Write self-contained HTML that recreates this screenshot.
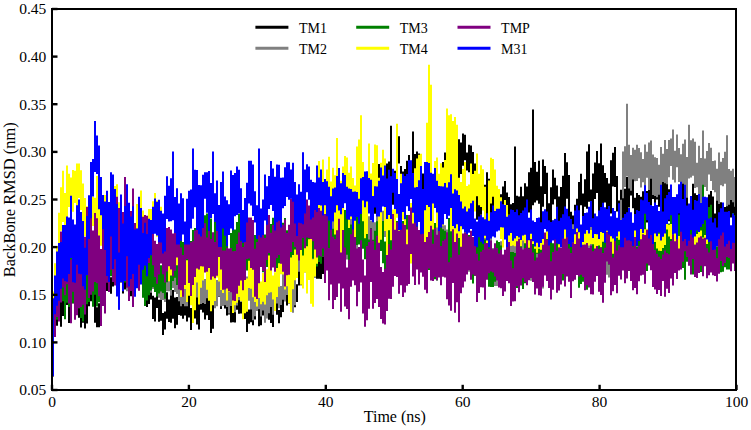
<!DOCTYPE html>
<html><head><meta charset="utf-8"><style>
html,body{margin:0;padding:0;background:#fff;}
svg{display:block;}
text{font-family:"Liberation Serif",serif;font-size:15.5px;fill:#000;}
text.lg{font-size:14px;}
text.al{font-size:16px;}
text.yl{font-size:16.4px;}
</style></head><body>
<svg width="751" height="430" viewBox="0 0 751 430">
<rect width="751" height="430" fill="#fff"/>
<defs><clipPath id="pc"><rect x="52" y="9" width="684" height="381"/></clipPath></defs>
<g fill="none" stroke-width="2.0" clip-path="url(#pc)">
<path d="M53.0 376.2V325.4M55.0 331.9V308.6M57.0 325.7V301.7M59.0 317.1V295.5M61.0 326.7V301.1M63.0 315.9V280.4M65.0 303.9V288.0M67.0 304.9V276.1M69.0 322.9V290.2M71.0 313.6V273.8M73.0 303.5V277.3M75.0 312.7V285.9M77.0 305.2V287.9M79.0 317.8V292.4M81.0 327.4V292.3M83.0 322.8V298.1M85.0 328.6V303.5M87.0 323.6V297.5M89.0 306.2V273.3M91.0 301.3V280.1M93.0 303.8V281.1M95.0 322.7V289.6M97.0 327.2V307.3M99.0 327.2V303.2M101.0 324.8V288.8M103.0 299.3V280.6M105.0 300.0V279.2M107.0 290.9V270.4M109.0 288.9V273.4M111.0 293.7V277.2M113.0 286.6V269.4M115.0 284.2V270.3M117.0 289.1V270.6M119.0 283.7V268.9M121.0 282.4V265.1M123.0 293.6V266.4M125.0 289.6V274.5M127.0 284.7V269.9M129.0 288.7V270.3M131.0 296.3V274.8M133.0 287.2V269.5M135.0 284.5V253.4M137.0 279.1V252.5M139.0 277.2V261.8M141.0 280.6V253.1M143.0 290.7V269.1M145.0 305.5V275.8M147.0 307.1V287.2M149.0 304.0V283.8M151.0 299.5V278.1M153.0 319.0V295.8M155.0 321.4V297.6M157.0 308.1V284.9M159.0 321.7V299.8M161.0 320.8V298.3M163.0 335.1V312.9M165.0 329.5V311.6M167.0 318.8V292.2M169.0 322.1V299.5M171.0 322.7V295.3M173.0 318.7V290.0M175.0 328.3V297.6M177.0 324.8V297.0M179.0 315.1V292.8M181.0 315.7V297.7M183.0 318.7V295.7M185.0 315.6V298.3M187.0 321.5V293.6M189.0 317.4V293.9M191.0 330.1V307.9M193.0 321.0V293.3M195.0 318.4V299.2M197.0 324.6V293.9M199.0 329.4V293.4M201.0 309.8V281.0M203.0 312.4V290.8M205.0 319.5V293.5M207.0 315.2V283.8M209.0 320.1V294.0M211.0 332.9V309.9M213.0 328.7V288.9M215.0 306.0V281.9M217.0 295.1V281.8M219.0 296.7V282.0M221.0 309.1V283.3M223.0 302.3V282.6M225.0 308.4V288.6M227.0 315.4V290.7M229.0 314.6V299.3M231.0 322.5V301.1M233.0 322.2V309.4M235.0 322.4V297.2M237.0 309.8V293.7M239.0 313.8V294.6M241.0 313.6V296.6M243.0 309.7V288.8M245.0 318.9V299.7M247.0 331.9V307.7M249.0 323.8V309.5M251.0 322.2V297.7M253.0 325.2V294.2M255.0 319.6V297.5M257.0 308.8V294.3M259.0 326.2V295.4M261.0 325.3V303.9M263.0 315.4V304.1M265.0 311.9V295.4M267.0 307.7V284.1M269.0 319.7V295.9M271.0 323.0V301.3M273.0 327.0V287.7M275.0 307.5V293.1M277.0 314.7V284.2M279.0 323.2V310.0M281.0 317.3V290.2M283.0 312.0V278.0M285.0 298.7V273.4M287.0 305.4V285.2M289.0 303.6V284.0M291.0 300.8V277.5M293.0 297.0V281.7M295.0 307.2V287.9M297.0 302.0V284.3M299.0 285.6V259.8M301.0 285.2V267.9M303.0 280.7V260.7M305.0 271.4V253.4M307.0 265.6V246.2M309.0 278.0V252.5M311.0 274.9V259.2M313.0 269.0V258.2M315.0 277.2V249.4M317.0 278.7V249.9M319.0 278.7V257.7M321.0 279.0V259.8M323.0 273.9V252.6M325.0 251.2V219.7M327.0 247.4V219.5M329.0 256.7V236.9M331.0 272.0V247.7M333.0 260.8V238.8M335.0 259.7V224.5M337.0 240.5V220.4M339.0 246.5V212.9M341.0 265.9V240.7M343.0 265.7V242.5M345.0 258.9V234.5M347.0 236.3V205.9M349.0 242.3V217.3M351.0 246.6V223.0M353.0 233.6V209.6M355.0 238.8V213.7M357.0 233.8V204.9M359.0 218.8V198.6M361.0 230.7V204.5M363.0 244.7V200.5M365.0 224.5V184.9M367.0 209.7V185.4M369.0 204.2V176.9M371.0 207.8V179.0M373.0 218.8V179.8M375.0 213.7V177.0M377.0 204.4V168.4M379.0 191.3V164.1M381.0 192.9V163.8M383.0 200.0V166.2M385.0 211.3V179.6M387.0 215.7V163.5M389.0 201.1V161.6M391.0 204.2V125.7M393.0 204.8V172.3M395.0 205.3V170.8M397.0 181.2V154.1M399.0 163.6V136.2M401.0 190.0V166.1M403.0 200.3V171.5M405.0 192.0V169.1M407.0 189.0V160.8M409.0 189.9V155.1M411.0 193.4V166.6M413.0 173.8V131.4M415.0 178.4V154.1M417.0 184.2V151.6M419.0 180.8V153.4M421.0 195.9V164.6M423.0 196.6V173.5M425.0 198.2V182.6M427.0 193.2V163.4M429.0 198.7V157.2M431.0 205.4V181.4M433.0 197.0V177.7M435.0 206.2V168.3M437.0 200.6V177.9M439.0 210.0V186.4M441.0 209.9V177.1M443.0 190.6V162.0M445.0 181.2V152.4M447.0 177.9V154.0M449.0 201.5V158.3M451.0 181.6V155.8M453.0 178.6V144.7M455.0 196.7V150.2M457.0 191.5V169.6M459.0 182.8V139.2M461.0 174.0V142.6M463.0 165.7V133.4M465.0 160.2V134.8M467.0 170.5V152.6M469.0 172.3V144.7M471.0 174.2V145.5M473.0 179.0V152.0M475.0 201.0V163.4M477.0 219.8V192.3M479.0 217.5V194.1M481.0 214.7V189.6M483.0 209.8V184.5M485.0 204.1V184.7M487.0 214.6V172.3M489.0 200.9V178.7M491.0 216.3V194.5M493.0 218.5V195.4M495.0 217.7V187.6M497.0 215.9V192.8M499.0 214.9V192.6M501.0 224.0V194.3M503.0 207.5V186.5M505.0 221.4V181.0M507.0 213.2V192.6M509.0 228.7V196.9M511.0 225.5V204.3M513.0 224.7V203.0M515.0 237.0V146.6M517.0 218.5V195.8M519.0 223.8V196.4M521.0 215.0V186.7M523.0 233.2V196.2M525.0 228.1V183.3M527.0 202.5V186.5M529.0 212.6V172.3M531.0 209.9V167.8M533.0 205.2V109.5M535.0 202.6V162.1M537.0 200.6V171.8M539.0 203.7V160.7M541.0 227.5V186.2M543.0 206.7V159.6M545.0 193.9V166.0M547.0 219.2V172.7M549.0 237.7V203.3M551.0 234.7V187.2M553.0 204.5V169.5M555.0 199.2V177.7M557.0 233.6V185.6M559.0 237.5V196.5M561.0 222.2V186.9M563.0 221.7V175.8M565.0 212.9V153.1M567.0 198.7V162.2M569.0 218.9V175.0M571.0 241.7V211.7M573.0 241.7V215.4M575.0 233.6V204.7M577.0 237.3V198.7M579.0 222.3V182.0M581.0 205.3V173.8M583.0 232.6V193.4M585.0 206.7V179.2M587.0 208.7V151.5M589.0 201.7V144.3M591.0 231.6V189.6M593.0 226.3V173.4M595.0 199.1V162.4M597.0 193.1V150.9M599.0 224.9V163.3M601.0 217.3V143.4M603.0 208.3V165.2M605.0 202.4V173.1M607.0 221.4V178.1M609.0 211.7V183.4M611.0 213.5V160.3M613.0 186.5V152.8M615.0 187.1V147.0M617.0 211.5V176.1M619.0 223.6V200.4M621.0 226.7V189.7M623.0 220.2V182.9M625.0 225.1V188.8M627.0 214.5V177.0M629.0 207.5V176.5M631.0 195.6V172.6M633.0 208.3V179.2M635.0 218.9V197.8M637.0 235.0V193.1M639.0 231.7V194.9M641.0 226.8V196.7M643.0 225.9V191.2M645.0 222.6V198.7M647.0 222.4V191.1M649.0 211.9V175.9M651.0 208.1V168.4M653.0 199.1V173.8M655.0 205.8V173.7M657.0 199.5V163.6M659.0 206.7V186.8M661.0 213.8V188.3M663.0 212.5V173.2M665.0 210.4V166.2M667.0 216.2V180.5M669.0 221.2V189.2M671.0 235.4V205.4M673.0 239.7V215.5M675.0 235.6V202.6M677.0 236.2V196.9M679.0 238.6V193.2M681.0 213.6V183.4M683.0 209.9V179.7M685.0 217.8V187.8M687.0 241.3V189.6M689.0 241.5V216.6M691.0 241.6V200.8M693.0 221.9V183.7M695.0 211.8V193.2M697.0 226.4V194.9M699.0 212.8V185.3M701.0 222.2V187.0M703.0 226.4V194.2M705.0 232.2V199.8M707.0 231.1V210.9M709.0 226.2V194.4M711.0 222.4V191.1M713.0 224.4V196.4M715.0 232.6V213.6M717.0 241.1V198.7M719.0 232.7V201.3M721.0 237.4V202.2M723.0 233.3V203.8M725.0 232.0V207.0M727.0 234.6V201.2M729.0 217.5V195.6M731.0 217.6V188.6M733.0 234.4V201.7M735.0 221.1V195.6M737.0 217.1V199.0" stroke="#000000"/>
<path d="M53.0 376.2V317.9M55.0 326.9V293.3M57.0 298.2V266.0M59.0 285.9V254.3M61.0 273.0V245.1M63.0 286.1V255.3M65.0 287.2V258.7M67.0 279.1V258.6M69.0 270.1V247.1M71.0 275.3V250.1M73.0 275.5V250.8M75.0 291.7V258.6M77.0 292.7V258.8M79.0 292.2V253.0M81.0 285.8V255.7M83.0 292.7V254.5M85.0 285.6V253.6M87.0 286.6V262.0M89.0 287.2V260.4M91.0 281.1V259.6M93.0 285.8V246.3M95.0 292.7V265.9M97.0 289.7V260.3M99.0 292.7V267.3M101.0 283.9V255.9M103.0 277.9V252.8M105.0 270.8V241.0M107.0 270.9V239.6M109.0 267.9V240.3M111.0 271.9V240.4M113.0 274.5V245.0M115.0 268.7V240.2M117.0 276.5V247.3M119.0 283.9V254.0M121.0 280.6V247.9M123.0 274.3V246.6M125.0 278.9V254.2M127.0 291.2V255.1M129.0 289.7V255.7M131.0 285.9V260.7M133.0 285.8V255.4M135.0 281.9V247.8M137.0 280.1V246.4M139.0 285.2V255.4M141.0 274.6V248.5M143.0 292.7V271.3M145.0 288.4V263.6M147.0 291.2V263.0M149.0 283.6V260.8M151.0 292.7V264.9M153.0 289.1V262.6M155.0 290.5V255.3M157.0 294.2V269.3M159.0 297.7V265.1M161.0 299.9V268.8M163.0 299.9V270.2M165.0 302.1V260.0M167.0 291.3V264.5M169.0 291.3V269.6M171.0 295.3V266.5M173.0 288.0V269.1M175.0 292.0V263.2M177.0 294.1V275.1M179.0 301.3V280.4M181.0 306.2V272.0M183.0 304.0V272.4M185.0 306.2V278.4M187.0 306.2V278.5M189.0 292.8V273.2M191.0 296.4V270.1M193.0 299.4V274.4M195.0 301.4V266.2M197.0 297.4V273.2M199.0 299.6V276.5M201.0 304.0V278.4M203.0 302.9V280.3M205.0 303.9V278.9M207.0 298.3V273.3M209.0 292.4V265.7M211.0 304.2V265.1M213.0 298.2V273.8M215.0 308.3V283.2M217.0 306.3V280.0M219.0 296.6V271.5M221.0 306.2V281.6M223.0 305.9V279.4M225.0 305.3V283.4M227.0 307.0V287.6M229.0 313.4V285.0M231.0 305.9V279.4M233.0 309.9V284.3M235.0 312.2V280.5M237.0 305.5V275.7M239.0 300.2V279.4M241.0 301.9V272.1M243.0 295.1V272.1M245.0 299.9V277.9M247.0 302.5V276.6M249.0 300.7V273.9M251.0 309.4V284.0M253.0 320.3V274.8M255.0 316.3V289.4M257.0 311.1V279.3M259.0 309.3V285.5M261.0 316.4V284.8M263.0 310.4V286.2M265.0 322.8V289.1M267.0 318.4V287.9M269.0 313.3V278.9M271.0 307.1V279.2M273.0 314.8V285.5M275.0 307.3V285.5M277.0 303.5V286.8M279.0 308.2V274.3M281.0 305.0V286.1M283.0 299.7V271.8M285.0 301.6V270.3M287.0 294.9V271.0M289.0 299.6V269.4M291.0 305.5V268.3M293.0 312.8V282.6M295.0 305.3V268.7M297.0 273.0V251.3M299.0 271.8V237.7M301.0 253.4V232.4M303.0 263.6V237.6M305.0 272.6V250.1M307.0 267.2V235.5M309.0 265.3V241.1M311.0 272.8V251.0M313.0 272.8V246.2M315.0 277.9V249.9M317.0 260.9V235.2M319.0 258.5V228.8M321.0 257.1V222.6M323.0 256.4V222.3M325.0 258.1V225.7M327.0 249.3V219.2M329.0 261.8V231.8M331.0 259.7V230.5M333.0 260.4V221.8M335.0 251.3V218.0M337.0 268.1V225.0M339.0 252.2V216.7M341.0 244.0V216.4M343.0 258.3V221.8M345.0 274.3V216.6M347.0 259.6V229.7M349.0 243.9V214.9M351.0 257.5V210.3M353.0 272.6V229.1M355.0 271.1V229.2M357.0 258.7V217.7M359.0 231.6V209.9M361.0 240.7V209.9M363.0 246.8V221.5M365.0 246.4V215.8M367.0 245.4V210.2M369.0 253.1V216.2M371.0 252.1V220.8M373.0 253.8V221.4M375.0 246.3V222.2M377.0 254.8V210.5M379.0 240.1V214.4M381.0 238.1V210.6M383.0 236.3V210.7M385.0 236.9V210.7M387.0 239.0V210.8M389.0 245.9V214.4M391.0 254.5V222.4M393.0 250.8V224.2M395.0 255.4V222.5M397.0 248.8V226.8M399.0 249.2V220.1M401.0 251.9V225.1M403.0 257.9V229.8M405.0 258.3V234.5M407.0 254.8V222.5M409.0 244.9V222.4M411.0 249.4V223.5M413.0 255.0V225.8M415.0 262.0V217.1M417.0 263.4V226.3M419.0 271.3V237.3M421.0 258.3V237.8M423.0 261.9V238.8M425.0 260.2V231.1M427.0 268.6V231.6M429.0 264.3V232.1M431.0 256.7V229.4M433.0 252.0V221.8M435.0 253.2V227.1M437.0 260.6V226.9M439.0 262.1V235.9M441.0 268.0V229.1M443.0 260.9V225.0M445.0 246.9V225.2M447.0 260.8V229.4M449.0 262.8V235.2M451.0 270.1V240.7M453.0 269.2V239.0M455.0 264.0V239.0M457.0 254.7V228.7M459.0 257.4V231.0M461.0 257.6V231.7M463.0 256.3V241.7M465.0 271.4V230.0M467.0 268.2V235.7M469.0 271.7V250.5M471.0 271.8V237.0M473.0 263.9V242.0M475.0 265.9V233.6M477.0 271.4V237.6M479.0 278.5V239.3M481.0 264.8V236.2M483.0 259.9V229.8M485.0 269.1V234.9M487.0 266.3V231.0M489.0 266.5V229.7M491.0 274.6V231.8M493.0 276.0V247.9M495.0 285.9V257.7M497.0 286.1V261.5M499.0 277.8V245.3M501.0 273.8V241.3M503.0 280.6V258.4M505.0 286.7V253.8M507.0 278.5V248.6M509.0 275.5V238.7M511.0 275.3V238.3M513.0 268.7V244.3M515.0 274.4V242.8M517.0 282.1V257.1M519.0 266.8V245.1M521.0 271.7V234.6M523.0 272.7V236.6M525.0 267.0V239.9M527.0 256.9V236.0M529.0 277.9V237.0M531.0 280.8V247.5M533.0 271.2V235.2M535.0 275.1V250.7M537.0 277.4V240.8M539.0 278.7V235.9M541.0 288.4V252.4M543.0 288.4V248.0M545.0 267.7V238.1M547.0 266.9V239.7M549.0 268.0V240.6M551.0 281.9V236.6M553.0 277.1V252.7M555.0 276.0V234.7M557.0 287.7V244.5M559.0 287.7V262.8M561.0 283.8V260.3M563.0 277.0V237.5M565.0 266.3V225.2M567.0 251.8V230.9M569.0 259.9V226.4M571.0 263.6V224.5M573.0 249.4V224.2M575.0 252.5V227.9M577.0 244.8V223.7M579.0 266.1V223.7M581.0 278.4V239.5M583.0 270.0V231.8M585.0 279.4V252.7M587.0 273.4V238.9M589.0 269.2V224.0M591.0 259.3V226.0M593.0 269.7V229.5M595.0 267.3V227.8M597.0 260.5V230.4M599.0 265.6V228.4M601.0 257.9V228.5M603.0 262.3V236.0M605.0 266.1V223.8M607.0 274.7V248.0M609.0 277.6V236.4M611.0 260.5V231.5M613.0 260.0V224.7M615.0 270.8V230.0M617.0 278.3V243.8M619.0 269.8V220.5M621.0 254.9V199.7M623.0 198.2V151.5M625.0 187.1V146.2M627.0 176.5V103.8M629.0 188.5V144.7M631.0 190.8V154.9M633.0 179.0V147.8M635.0 181.3V149.8M637.0 181.0V144.7M639.0 178.3V147.9M641.0 187.4V152.2M643.0 182.3V159.1M645.0 192.1V144.6M647.0 177.8V151.8M649.0 189.9V142.4M651.0 178.7V140.6M653.0 195.0V154.4M655.0 196.0V157.2M657.0 197.3V157.9M659.0 194.7V164.8M661.0 190.9V147.0M663.0 181.9V153.7M665.0 183.3V139.9M667.0 184.2V149.0M669.0 177.2V140.1M671.0 166.0V138.4M673.0 179.7V129.5M675.0 182.5V150.7M677.0 167.3V134.4M679.0 181.9V148.0M681.0 189.7V154.3M683.0 183.7V143.8M685.0 188.2V139.6M687.0 197.7V157.1M689.0 178.6V124.7M691.0 177.6V140.2M693.0 175.8V138.5M695.0 188.0V141.7M697.0 187.3V162.7M699.0 196.6V145.7M701.0 203.8V157.9M703.0 198.8V130.4M705.0 186.9V158.4M707.0 191.0V150.9M709.0 174.5V143.1M711.0 181.0V147.7M713.0 190.0V160.9M715.0 192.2V160.4M717.0 200.7V168.8M719.0 204.1V152.6M721.0 185.2V161.7M723.0 186.3V158.1M725.0 183.8V151.8M727.0 206.2V135.2M729.0 204.8V168.9M731.0 200.0V170.7M733.0 202.3V168.7M735.0 206.8V177.1M737.0 207.0V189.4" stroke="#808080"/>
<path d="M53.0 376.2V323.8M55.0 330.6V298.5M57.0 319.7V280.5M59.0 296.3V263.5M61.0 292.1V245.1M63.0 301.2V250.0M65.0 319.2V270.4M67.0 302.7V267.5M69.0 307.1V272.1M71.0 294.7V252.4M73.0 303.1V252.5M75.0 293.8V250.7M77.0 300.8V262.4M79.0 308.6V268.7M81.0 318.0V270.2M83.0 321.6V248.7M85.0 302.6V254.0M87.0 304.3V263.1M89.0 301.9V255.8M91.0 293.4V254.3M93.0 306.7V265.6M95.0 294.8V261.5M97.0 306.4V273.6M99.0 302.2V267.3M101.0 292.9V256.6M103.0 285.3V252.4M105.0 283.3V255.4M107.0 280.5V250.3M109.0 280.1V256.1M111.0 276.2V252.9M113.0 279.8V251.4M115.0 279.4V253.4M117.0 275.8V248.7M119.0 271.6V246.3M121.0 268.2V245.4M123.0 277.7V250.0M125.0 282.6V254.4M127.0 270.1V242.3M129.0 264.8V240.4M131.0 273.4V252.4M133.0 280.2V252.2M135.0 283.8V240.0M137.0 270.4V239.6M139.0 280.9V246.2M141.0 278.9V255.2M143.0 297.7V252.9M145.0 305.9V247.6M147.0 300.6V253.9M149.0 295.2V248.1M151.0 290.6V251.9M153.0 287.3V246.8M155.0 291.9V247.0M157.0 296.4V266.0M159.0 293.5V262.0M161.0 291.4V265.3M163.0 292.9V244.9M165.0 298.8V243.1M167.0 282.2V244.2M169.0 279.1V250.7M171.0 290.0V252.4M173.0 280.9V248.3M175.0 277.7V249.9M177.0 285.1V239.4M179.0 274.9V229.6M181.0 270.8V235.7M183.0 271.2V242.0M185.0 280.3V245.8M187.0 274.4V240.6M189.0 279.0V239.4M191.0 279.4V241.1M193.0 266.0V229.9M195.0 267.2V228.0M197.0 269.0V241.7M199.0 263.6V227.2M201.0 256.2V223.1M203.0 273.7V232.8M205.0 257.9V215.3M207.0 238.4V213.5M209.0 242.0V213.2M211.0 254.6V218.5M213.0 265.5V235.8M215.0 259.6V220.7M217.0 256.0V225.6M219.0 274.0V237.3M221.0 271.4V233.6M223.0 269.9V221.7M225.0 264.0V233.8M227.0 272.4V234.1M229.0 277.3V253.7M231.0 277.5V233.0M233.0 262.0V224.0M235.0 263.3V229.4M237.0 267.7V222.0M239.0 248.7V213.7M241.0 261.4V221.7M243.0 260.8V224.9M245.0 265.9V228.2M247.0 270.6V236.9M249.0 267.7V234.2M251.0 274.0V233.2M253.0 265.4V228.7M255.0 282.1V235.1M257.0 265.1V237.3M259.0 270.9V232.1M261.0 264.6V237.5M263.0 272.3V234.9M265.0 265.5V234.6M267.0 266.9V230.3M269.0 263.8V222.9M271.0 268.8V224.0M273.0 260.6V217.7M275.0 256.5V218.2M277.0 268.4V232.5M279.0 268.5V239.0M281.0 267.2V228.8M283.0 259.4V222.8M285.0 261.5V218.1M287.0 279.9V230.2M289.0 278.0V243.0M291.0 268.5V236.4M293.0 268.5V234.1M295.0 279.7V244.4M297.0 258.9V223.3M299.0 258.5V230.3M301.0 255.5V218.1M303.0 270.6V222.2M305.0 264.4V230.8M307.0 248.5V217.3M309.0 255.8V215.1M311.0 262.4V220.7M313.0 258.6V225.3M315.0 270.9V228.6M317.0 266.5V230.9M319.0 262.1V232.0M321.0 263.8V212.4M323.0 256.0V219.1M325.0 256.9V227.6M327.0 264.4V228.4M329.0 263.3V215.7M331.0 252.2V222.0M333.0 254.7V228.7M335.0 255.6V226.3M337.0 272.0V231.1M339.0 262.7V233.9M341.0 270.4V230.8M343.0 275.2V238.7M345.0 260.0V209.9M347.0 254.8V215.2M349.0 270.1V226.6M351.0 263.8V224.4M353.0 276.1V246.4M355.0 268.9V212.7M357.0 245.0V216.0M359.0 244.5V217.9M361.0 252.3V213.8M363.0 248.7V211.6M365.0 259.2V220.8M367.0 268.6V222.4M369.0 264.5V239.4M371.0 263.5V227.9M373.0 276.0V239.7M375.0 262.4V230.7M377.0 257.3V221.3M379.0 257.5V219.9M381.0 251.1V222.8M383.0 263.2V221.0M385.0 275.7V241.6M387.0 269.5V228.5M389.0 265.6V223.9M391.0 266.6V228.2M393.0 270.3V234.0M395.0 258.6V213.6M397.0 256.6V220.9M399.0 264.7V222.0M401.0 272.3V227.4M403.0 262.9V221.0M405.0 252.3V213.0M407.0 258.3V215.1M409.0 250.5V220.4M411.0 250.4V210.9M413.0 265.3V213.1M415.0 268.1V230.0M417.0 257.0V216.7M419.0 268.3V230.6M421.0 262.0V227.5M423.0 271.8V239.6M425.0 260.5V226.8M427.0 272.4V228.6M429.0 270.0V227.0M431.0 265.9V215.6M433.0 258.7V220.6M435.0 279.2V223.1M437.0 280.4V237.1M439.0 265.0V228.1M441.0 268.4V225.0M443.0 269.3V229.2M445.0 274.4V230.8M447.0 283.7V244.3M449.0 271.1V217.9M451.0 279.6V229.6M453.0 273.2V217.0M455.0 253.8V218.2M457.0 265.1V229.2M459.0 269.2V230.0M461.0 267.3V236.1M463.0 268.4V237.5M465.0 270.1V238.6M467.0 265.1V232.6M469.0 265.7V234.9M471.0 272.6V233.3M473.0 283.4V247.1M475.0 275.8V234.8M477.0 255.5V226.1M479.0 268.8V221.2M481.0 279.0V240.4M483.0 269.0V238.8M485.0 273.7V239.5M487.0 276.7V248.4M489.0 286.8V242.2M491.0 286.9V259.5M493.0 287.1V249.7M495.0 281.8V245.2M497.0 273.5V240.5M499.0 272.7V242.0M501.0 279.1V245.5M503.0 287.2V260.6M505.0 281.0V253.1M507.0 281.1V245.8M509.0 273.5V233.3M511.0 288.3V252.1M513.0 281.1V251.9M515.0 288.6V252.9M517.0 288.0V252.3M519.0 278.8V250.0M521.0 270.9V238.0M523.0 289.1V251.6M525.0 283.3V237.3M527.0 275.9V241.6M529.0 264.7V223.4M531.0 261.3V227.5M533.0 265.6V225.0M535.0 275.3V241.8M537.0 253.8V228.7M539.0 263.4V233.3M541.0 266.8V232.7M543.0 269.4V242.1M545.0 272.0V234.2M547.0 277.7V235.5M549.0 257.8V235.5M551.0 271.2V229.5M553.0 276.1V243.3M555.0 269.8V240.7M557.0 280.1V242.6M559.0 263.7V230.8M561.0 283.4V248.0M563.0 280.4V242.4M565.0 277.6V244.4M567.0 275.0V237.9M569.0 272.5V242.7M571.0 267.9V231.6M573.0 278.3V238.2M575.0 261.6V223.6M577.0 254.9V223.6M579.0 287.8V242.1M581.0 284.1V249.4M583.0 281.7V253.1M585.0 288.0V256.7M587.0 289.7V254.4M589.0 279.5V249.5M591.0 275.6V249.6M593.0 271.0V234.2M595.0 271.5V223.6M597.0 261.6V230.6M599.0 261.1V236.2M601.0 254.2V223.6M603.0 260.8V223.6M605.0 250.0V223.6M607.0 257.2V223.6M609.0 264.4V228.1M611.0 265.2V238.8M613.0 284.4V251.7M615.0 277.7V239.1M617.0 271.3V234.9M619.0 262.6V223.6M621.0 263.9V223.6M623.0 259.8V223.6M625.0 270.2V239.5M627.0 277.1V240.9M629.0 271.1V230.8M631.0 274.5V231.9M633.0 268.0V231.8M635.0 278.5V237.5M637.0 262.8V232.6M639.0 267.7V227.1M641.0 245.0V214.0M643.0 249.9V213.1M645.0 261.8V210.0M647.0 270.9V235.5M649.0 261.0V217.0M651.0 261.3V217.5M653.0 271.9V210.7M655.0 286.1V216.5M657.0 261.8V212.3M659.0 262.9V219.9M661.0 276.0V221.9M663.0 279.4V223.3M665.0 271.8V227.4M667.0 256.6V223.6M669.0 258.3V223.4M671.0 256.1V213.2M673.0 267.2V225.3M675.0 256.5V214.3M677.0 267.2V207.3M679.0 261.6V214.5M681.0 264.7V216.2M683.0 268.1V219.2M685.0 279.8V233.8M687.0 261.7V213.7M689.0 255.9V204.1M691.0 269.6V216.2M693.0 274.4V219.1M695.0 273.9V242.4M697.0 259.6V209.0M699.0 265.5V216.5M701.0 272.1V203.5M703.0 244.7V184.7M705.0 251.0V210.9M707.0 261.2V225.3M709.0 256.6V207.0M711.0 270.6V204.7M713.0 265.1V233.3M715.0 257.1V225.0M717.0 272.3V231.9M719.0 268.1V235.2M721.0 272.2V242.6M723.0 271.8V248.4M725.0 267.2V246.8M727.0 269.6V239.2M729.0 269.6V241.0M731.0 268.9V234.7M733.0 249.0V213.1M735.0 245.3V215.0M737.0 233.1V217.8" stroke="#008000"/>
<path d="M53.0 376.2V291.4M55.0 294.1V263.2M57.0 275.7V246.1M59.0 257.0V212.7M61.0 230.8V187.3M63.0 221.9V170.7M65.0 243.4V193.1M67.0 228.8V165.6M69.0 207.0V173.8M71.0 213.2V177.6M73.0 211.7V169.9M75.0 202.9V170.8M77.0 210.3V163.6M79.0 198.0V163.4M81.0 210.0V170.3M83.0 231.8V183.4M85.0 236.3V198.0M87.0 250.4V206.2M89.0 260.7V218.6M91.0 254.9V197.7M93.0 226.0V196.7M95.0 240.6V197.8M97.0 235.7V175.9M99.0 236.0V176.8M101.0 245.8V208.6M103.0 238.1V203.7M105.0 227.4V194.9M107.0 249.0V207.2M109.0 247.4V213.8M111.0 243.3V213.9M113.0 248.8V213.3M115.0 235.7V185.9M117.0 229.5V184.3M119.0 247.2V202.3M121.0 245.8V212.0M123.0 249.1V215.2M125.0 243.4V211.4M127.0 247.6V212.6M129.0 243.1V210.8M131.0 238.4V211.8M133.0 259.9V230.3M135.0 259.9V234.5M137.0 248.0V204.1M139.0 240.3V203.7M141.0 220.1V190.4M143.0 243.2V210.6M145.0 250.4V230.2M147.0 251.4V217.9M149.0 231.3V209.0M151.0 247.7V209.0M153.0 239.1V201.2M155.0 228.2V192.9M157.0 236.8V200.6M159.0 241.4V206.9M161.0 245.0V206.8M163.0 255.5V214.4M165.0 261.7V233.3M167.0 264.1V241.2M169.0 281.3V251.0M171.0 275.5V236.8M173.0 274.3V244.9M175.0 265.1V239.6M177.0 265.3V236.1M179.0 280.1V241.8M181.0 297.0V267.6M183.0 296.0V263.3M185.0 289.0V252.6M187.0 302.0V260.3M189.0 295.7V265.7M191.0 305.3V264.8M193.0 323.1V274.0M195.0 310.2V274.0M197.0 282.5V251.4M199.0 304.6V263.8M201.0 287.8V259.5M203.0 280.2V237.9M205.0 259.6V237.9M207.0 289.8V243.0M209.0 300.7V255.9M211.0 311.2V279.7M213.0 305.3V267.4M215.0 301.1V270.5M217.0 277.6V259.1M219.0 281.6V244.9M221.0 290.1V241.7M223.0 292.9V257.0M225.0 288.7V253.6M227.0 300.6V264.6M229.0 291.7V265.9M231.0 291.4V260.3M233.0 312.9V276.3M235.0 305.3V269.1M237.0 302.7V276.4M239.0 296.9V265.0M241.0 301.2V266.3M243.0 319.2V286.3M245.0 313.3V277.0M247.0 311.7V278.5M249.0 288.1V260.7M251.0 288.7V261.7M253.0 297.2V267.8M255.0 302.1V282.4M257.0 306.5V284.9M259.0 298.1V276.3M261.0 304.3V281.6M263.0 301.7V273.0M265.0 304.6V265.6M267.0 295.3V269.2M269.0 292.8V255.4M271.0 292.3V264.7M273.0 299.5V275.4M275.0 311.0V272.2M277.0 297.1V268.1M279.0 286.7V263.2M281.0 274.3V244.6M283.0 274.4V242.6M285.0 289.4V261.0M287.0 286.3V254.0M289.0 303.3V271.2M291.0 312.1V257.4M293.0 289.2V255.1M295.0 280.2V249.6M297.0 277.9V225.9M299.0 259.9V230.7M301.0 284.8V238.6M303.0 288.4V255.5M305.0 272.6V234.7M307.0 293.6V246.2M309.0 280.0V239.2M311.0 303.7V238.6M313.0 306.7V259.2M315.0 276.4V231.1M317.0 263.7V214.4M319.0 253.7V160.9M321.0 232.5V175.2M323.0 228.1V159.6M325.0 226.4V181.0M327.0 230.2V169.4M329.0 218.0V156.8M331.0 226.0V181.5M333.0 213.9V167.7M335.0 234.5V175.3M337.0 250.2V138.0M339.0 240.5V176.8M341.0 254.8V180.8M343.0 238.3V166.4M345.0 191.6V156.1M347.0 197.1V157.4M349.0 227.9V172.7M351.0 219.1V166.5M353.0 236.6V178.1M355.0 242.9V185.4M357.0 216.1V146.5M359.0 200.5V139.4M361.0 205.9V115.2M363.0 221.3V162.1M365.0 238.2V175.1M367.0 234.0V188.6M369.0 211.4V143.4M371.0 214.8V173.5M373.0 207.1V163.1M375.0 196.9V144.5M377.0 212.0V145.3M379.0 242.7V177.7M381.0 239.8V162.7M383.0 202.3V149.8M385.0 231.1V158.5M387.0 260.1V200.2M389.0 230.2V175.9M391.0 240.2V188.3M393.0 263.9V209.6M395.0 260.5V197.3M397.0 217.8V123.8M399.0 239.3V197.4M401.0 241.7V173.8M403.0 219.7V175.6M405.0 269.1V194.3M407.0 272.4V229.6M409.0 272.3V227.3M411.0 263.6V203.1M413.0 237.1V177.0M415.0 231.9V168.3M417.0 215.5V158.5M419.0 193.5V154.7M421.0 216.3V153.8M423.0 236.5V192.7M425.0 255.3V203.2M427.0 257.4V122.8M429.0 241.6V64.7M431.0 250.7V84.7M433.0 229.6V189.0M435.0 205.5V161.1M437.0 227.6V157.5M439.0 223.0V173.8M441.0 212.7V163.2M443.0 225.5V167.4M445.0 205.7V160.1M447.0 211.3V108.5M449.0 197.8V115.2M451.0 231.3V114.2M453.0 254.8V120.9M455.0 242.4V117.1M457.0 247.5V124.7M459.0 238.0V177.8M461.0 251.4V182.0M463.0 222.1V168.9M465.0 214.7V161.9M467.0 229.9V186.1M469.0 226.4V184.4M471.0 209.3V163.6M473.0 211.3V173.9M475.0 211.5V170.7M477.0 196.2V153.5M479.0 205.2V173.8M481.0 207.1V165.2M483.0 210.5V169.2M485.0 238.1V186.7M487.0 246.5V221.7M489.0 233.5V180.5M491.0 203.6V157.8M493.0 196.7V158.9M495.0 224.9V169.5M497.0 212.8V185.8M499.0 221.6V189.1M501.0 239.1V197.3M503.0 247.4V211.2M505.0 230.3V200.1M507.0 231.4V204.9M509.0 248.5V214.8M511.0 246.0V217.6M513.0 245.5V211.2M515.0 246.3V220.5M517.0 253.9V230.2M519.0 245.8V226.8M521.0 246.3V227.6M523.0 240.5V217.6M525.0 243.2V228.2M527.0 250.0V226.8M529.0 247.7V234.0M531.0 243.2V229.7M533.0 244.0V230.1M535.0 248.7V231.6M537.0 252.8V235.8M539.0 248.8V223.5M541.0 249.8V223.3M543.0 249.5V233.4M545.0 248.8V233.3M547.0 239.1V221.9M549.0 239.7V221.7M551.0 239.8V224.4M553.0 236.3V219.9M555.0 243.4V218.4M557.0 239.9V225.7M559.0 247.7V235.0M561.0 244.6V226.0M563.0 243.3V228.9M565.0 243.3V229.0M567.0 243.6V227.0M569.0 240.7V226.5M571.0 234.3V221.7M573.0 245.2V228.0M575.0 249.2V229.5M577.0 240.3V226.6M579.0 243.7V225.1M581.0 244.1V225.1M583.0 244.5V226.1M585.0 248.0V232.3M587.0 247.0V230.8M589.0 245.6V227.7M591.0 243.9V230.0M593.0 244.3V228.5M595.0 251.7V233.2M597.0 246.3V228.2M599.0 245.4V233.3M601.0 247.2V230.0M603.0 241.8V227.6M605.0 241.7V221.4M607.0 239.0V226.9M609.0 241.0V219.9M611.0 241.8V220.2M613.0 253.7V225.6M615.0 252.4V233.0M617.0 237.7V226.5M619.0 239.7V228.3M621.0 241.7V221.1M623.0 238.6V220.4M625.0 239.2V224.6M627.0 229.9V220.3M629.0 237.9V220.4M631.0 243.2V227.1M633.0 245.3V228.4M635.0 243.4V226.2M637.0 246.4V228.9M639.0 239.9V222.4M641.0 240.9V220.7M643.0 238.5V220.9M645.0 242.8V229.3M647.0 242.0V228.8M649.0 245.2V235.0M651.0 247.9V233.3M653.0 243.3V227.6M655.0 241.9V226.3M657.0 248.4V229.5M659.0 250.7V233.7M661.0 251.1V233.7M663.0 247.9V234.8M665.0 244.9V221.3M667.0 229.6V221.4M669.0 236.6V224.7M671.0 239.1V224.1M673.0 236.9V221.5M675.0 243.6V226.4M677.0 276.2V231.4M679.0 254.2V235.9M681.0 257.0V238.4M683.0 244.6V230.2M685.0 247.7V234.6M687.0 251.1V236.4M689.0 255.5V239.1M691.0 255.3V241.3M693.0 249.8V235.1M695.0 244.8V232.5M697.0 246.0V233.9M699.0 244.1V230.3M701.0 242.8V230.4M703.0 250.2V237.5M705.0 247.3V235.0M707.0 244.0V232.6M709.0 240.9V227.6M711.0 243.5V228.4M713.0 247.3V232.6M715.0 243.7V228.6M717.0 246.6V234.8M719.0 244.5V229.3M721.0 246.0V231.7M723.0 245.5V231.2M725.0 251.3V235.4M727.0 254.9V243.0M729.0 254.1V237.1M731.0 244.5V228.6M733.0 248.9V236.6M735.0 251.0V232.4M737.0 243.0V238.2" stroke="#ffff00"/>
<path d="M53.0 376.2V308.2M55.0 337.0V294.3M57.0 317.1V273.5M59.0 321.4V263.4M61.0 302.6V231.6M63.0 287.5V241.6M65.0 295.2V233.1M67.0 284.3V231.2M69.0 303.5V245.3M71.0 323.3V259.4M73.0 291.8V234.6M75.0 319.7V255.7M77.0 315.2V251.5M79.0 308.1V253.8M81.0 306.9V232.5M83.0 304.7V242.8M85.0 314.6V236.8M87.0 275.3V207.1M89.0 298.0V228.1M91.0 294.7V184.0M93.0 291.6V230.5M95.0 281.9V212.9M97.0 283.2V218.3M99.0 296.2V235.5M101.0 326.0V249.0M103.0 306.1V221.1M105.0 313.4V225.4M107.0 282.8V213.7M109.0 292.0V206.0M111.0 269.7V216.7M113.0 282.0V211.5M115.0 285.5V220.9M117.0 278.3V196.8M119.0 309.6V208.1M121.0 279.5V220.6M123.0 271.6V212.0M125.0 273.5V177.1M127.0 287.8V206.9M129.0 301.0V225.2M131.0 291.1V211.0M133.0 306.9V188.4M135.0 278.7V223.1M137.0 271.7V228.8M139.0 290.7V234.6M141.0 267.7V222.7M143.0 249.8V216.8M145.0 249.4V215.0M147.0 257.7V215.8M149.0 263.0V225.2M151.0 254.8V225.4M153.0 265.3V232.7M155.0 277.1V240.8M157.0 283.7V244.1M159.0 274.5V233.3M161.0 263.5V230.3M163.0 274.2V237.9M165.0 282.4V238.1M167.0 271.6V228.0M169.0 266.2V226.9M171.0 269.5V229.4M173.0 276.2V233.6M175.0 270.7V228.2M177.0 257.4V227.2M179.0 289.4V235.0M181.0 290.2V247.4M183.0 296.7V255.0M185.0 284.9V237.0M187.0 258.9V225.1M189.0 283.0V224.2M191.0 296.0V242.2M193.0 285.0V241.2M195.0 276.9V230.6M197.0 268.6V229.9M199.0 269.4V227.8M201.0 266.3V226.3M203.0 266.6V220.1M205.0 272.4V223.2M207.0 271.8V237.5M209.0 267.9V224.5M211.0 279.6V239.0M213.0 276.6V232.3M215.0 278.3V241.9M217.0 275.8V218.5M219.0 256.9V217.0M221.0 269.6V225.5M223.0 289.8V250.4M225.0 289.5V250.4M227.0 288.4V247.8M229.0 291.2V248.4M231.0 292.3V248.1M233.0 300.6V251.2M235.0 301.1V250.9M237.0 293.8V243.9M239.0 285.7V232.6M241.0 280.5V241.4M243.0 290.3V247.1M245.0 279.9V233.4M247.0 258.9V219.0M249.0 258.6V217.6M251.0 268.1V217.6M253.0 269.8V220.0M255.0 296.7V248.7M257.0 298.9V242.0M259.0 283.2V233.1M261.0 267.0V226.3M263.0 271.0V221.6M265.0 282.0V238.1M267.0 260.1V222.7M269.0 252.9V215.1M271.0 270.5V232.7M273.0 267.6V224.9M275.0 271.8V219.6M277.0 258.1V213.1M279.0 255.0V212.6M281.0 263.7V218.0M283.0 271.8V224.8M285.0 286.4V219.4M287.0 275.3V233.1M289.0 274.7V224.7M291.0 252.0V198.4M293.0 241.9V196.8M295.0 246.9V196.4M297.0 254.7V205.2M299.0 260.5V218.9M301.0 250.1V206.0M303.0 238.1V200.8M305.0 248.3V193.1M307.0 237.5V199.4M309.0 238.1V205.6M311.0 238.9V195.1M313.0 241.2V195.3M315.0 249.4V195.9M317.0 257.4V205.8M319.0 255.5V208.1M321.0 256.5V210.8M323.0 248.4V201.2M325.0 283.1V214.1M327.0 270.6V210.9M329.0 300.3V248.1M331.0 284.4V219.1M333.0 308.9V236.7M335.0 299.9V239.0M337.0 297.0V230.2M339.0 283.4V218.7M341.0 311.8V252.6M343.0 288.4V230.0M345.0 306.6V247.4M347.0 308.9V267.5M349.0 319.2V259.7M351.0 286.7V234.3M353.0 280.4V222.0M355.0 285.2V237.0M357.0 306.3V248.6M359.0 291.8V247.0M361.0 282.4V240.3M363.0 313.5V259.5M365.0 326.7V275.5M367.0 320.3V246.1M369.0 308.8V241.9M371.0 282.0V228.5M373.0 308.7V240.8M375.0 303.0V249.8M377.0 298.9V235.7M379.0 306.9V243.1M381.0 319.1V267.0M383.0 323.6V272.1M385.0 324.6V268.8M387.0 311.0V254.9M389.0 298.7V244.3M391.0 299.0V249.5M393.0 286.8V214.1M395.0 275.9V229.8M397.0 276.9V222.3M399.0 293.8V231.0M401.0 285.3V228.0M403.0 297.1V223.6M405.0 292.4V225.0M407.0 285.8V244.3M409.0 284.0V215.0M411.0 253.9V207.4M413.0 276.5V223.4M415.0 285.1V222.1M417.0 269.4V226.7M419.0 284.4V230.1M421.0 272.4V229.5M423.0 276.7V229.7M425.0 289.7V241.9M427.0 293.2V237.0M429.0 268.6V232.0M431.0 280.5V225.7M433.0 281.1V243.8M435.0 276.9V228.3M437.0 280.3V234.8M439.0 277.4V219.1M441.0 285.2V246.0M443.0 276.7V240.8M445.0 277.6V239.3M447.0 299.2V232.3M449.0 305.4V262.2M451.0 310.8V257.4M453.0 283.0V229.2M455.0 312.8V242.0M457.0 302.2V233.4M459.0 322.2V254.8M461.0 293.2V246.7M463.0 287.6V233.5M465.0 281.5V232.4M467.0 274.6V234.0M469.0 270.2V236.5M471.0 279.8V230.8M473.0 274.5V236.9M475.0 275.8V234.2M477.0 301.9V253.7M479.0 293.0V260.4M481.0 287.3V251.8M483.0 287.5V250.1M485.0 299.8V243.2M487.0 279.8V243.0M489.0 273.2V248.8M491.0 271.4V240.5M493.0 272.4V249.2M495.0 276.6V243.2M497.0 280.5V247.9M499.0 287.4V253.5M501.0 288.3V249.7M503.0 296.1V254.6M505.0 291.5V249.8M507.0 281.1V245.6M509.0 283.3V242.0M511.0 305.9V260.6M513.0 301.6V268.2M515.0 301.3V256.4M517.0 286.3V241.3M519.0 292.3V238.7M521.0 285.4V247.6M523.0 278.2V249.5M525.0 281.9V248.1M527.0 285.3V238.9M529.0 280.2V248.8M531.0 278.1V239.1M533.0 281.9V252.5M535.0 294.6V260.5M537.0 288.6V257.4M539.0 295.3V253.4M541.0 295.8V252.6M543.0 286.7V244.7M545.0 275.5V232.6M547.0 281.0V239.7M549.0 288.1V237.3M551.0 299.6V261.3M553.0 289.8V252.0M555.0 275.4V238.7M557.0 292.8V250.7M559.0 290.5V247.4M561.0 284.4V247.5M563.0 273.9V231.8M565.0 286.4V238.7M567.0 276.6V233.3M569.0 281.7V248.5M571.0 298.1V253.0M573.0 281.3V242.2M575.0 279.8V244.1M577.0 275.0V231.9M579.0 276.6V238.4M581.0 274.7V230.7M583.0 276.9V245.0M585.0 290.3V244.6M587.0 285.2V242.9M589.0 287.4V248.1M591.0 294.2V245.6M593.0 294.4V251.3M595.0 281.7V248.5M597.0 275.9V245.9M599.0 291.7V248.7M601.0 295.1V247.4M603.0 302.7V252.9M605.0 282.7V247.7M607.0 261.4V231.8M609.0 264.4V233.3M611.0 295.2V242.3M613.0 291.3V257.6M615.0 285.1V240.6M617.0 293.2V250.4M619.0 275.7V245.2M621.0 279.5V227.9M623.0 270.5V229.0M625.0 283.2V233.5M627.0 278.6V227.7M629.0 270.7V227.4M631.0 281.1V232.2M633.0 290.2V246.5M635.0 287.9V237.0M637.0 294.2V248.6M639.0 281.3V246.0M641.0 275.6V239.3M643.0 274.8V234.2M645.0 283.8V234.9M647.0 263.4V229.8M649.0 265.4V225.9M651.0 270.3V225.9M653.0 287.0V235.7M655.0 289.4V250.1M657.0 294.1V253.7M659.0 290.1V256.8M661.0 296.0V259.0M663.0 281.0V254.4M665.0 296.7V250.6M667.0 288.7V253.0M669.0 292.9V254.2M671.0 278.5V241.0M673.0 285.4V234.2M675.0 272.9V241.3M677.0 279.1V235.3M679.0 270.5V248.6M681.0 269.6V225.4M683.0 261.8V225.5M685.0 251.3V225.6M687.0 257.0V225.7M689.0 265.8V231.7M691.0 274.5V234.4M693.0 258.9V226.2M695.0 277.1V244.8M697.0 278.0V242.6M699.0 273.0V237.5M701.0 265.7V236.3M703.0 276.3V238.4M705.0 266.2V237.8M707.0 278.3V248.3M709.0 275.2V252.6M711.0 272.6V239.2M713.0 275.2V243.8M715.0 275.9V239.5M717.0 281.4V258.3M719.0 273.7V233.8M721.0 261.0V230.7M723.0 265.9V227.3M725.0 263.0V228.1M727.0 256.9V227.3M729.0 258.1V236.6M731.0 271.2V227.4M733.0 263.6V236.4M735.0 271.1V241.2M737.0 257.7V240.2" stroke="#800080"/>
<path d="M53.0 376.2V298.2M55.0 314.3V275.6M57.0 305.8V251.4M59.0 300.7V243.0M61.0 288.8V242.1M63.0 278.5V224.9M65.0 280.9V224.9M67.0 281.7V216.4M69.0 274.0V217.4M71.0 258.0V195.7M73.0 282.2V219.6M75.0 282.7V224.5M77.0 264.8V205.3M79.0 273.7V199.6M81.0 274.3V212.1M83.0 286.2V220.9M85.0 289.5V247.8M87.0 275.1V215.9M89.0 238.9V195.2M91.0 218.2V162.1M93.0 196.6V158.9M95.0 172.0V120.9M97.0 173.9V135.5M99.0 209.3V145.6M101.0 215.2V176.9M103.0 229.2V195.0M105.0 250.0V201.6M107.0 276.0V190.7M109.0 282.1V202.1M111.0 236.6V172.3M113.0 268.9V174.4M115.0 259.3V188.9M117.0 296.4V203.9M119.0 309.7V252.5M121.0 282.1V194.5M123.0 291.2V223.5M125.0 281.0V206.1M127.0 256.3V184.2M129.0 286.5V202.8M131.0 278.9V216.4M133.0 274.1V206.2M135.0 296.7V229.6M137.0 288.3V228.6M139.0 264.7V196.8M141.0 284.4V208.1M143.0 269.7V233.0M145.0 265.7V222.8M147.0 276.3V233.9M149.0 258.1V218.8M151.0 255.3V220.1M153.0 234.1V206.8M155.0 233.7V198.5M157.0 235.4V201.8M159.0 242.3V199.8M161.0 242.4V210.8M163.0 253.5V213.5M165.0 251.5V195.7M167.0 219.0V176.3M169.0 221.4V185.8M171.0 221.2V178.2M173.0 220.3V151.4M175.0 233.0V197.0M177.0 244.6V188.2M179.0 244.6V203.6M181.0 241.0V193.3M183.0 234.5V198.2M185.0 244.5V221.5M187.0 244.4V198.8M189.0 244.5V190.7M191.0 228.6V189.6M193.0 218.8V148.5M195.0 207.3V169.7M197.0 230.1V170.1M199.0 234.3V185.1M201.0 236.4V185.2M203.0 228.0V174.7M205.0 198.7V172.3M207.0 212.7V172.3M209.0 231.1V171.0M211.0 217.9V183.1M213.0 213.9V151.4M215.0 221.9V193.2M217.0 231.0V180.5M219.0 247.0V204.9M221.0 247.0V182.0M223.0 228.4V171.5M225.0 235.7V196.5M227.0 246.2V200.3M229.0 234.9V204.3M231.0 228.4V170.5M233.0 230.3V175.0M235.0 216.3V173.0M237.0 215.0V166.5M239.0 213.6V169.8M241.0 240.8V188.2M243.0 242.7V210.1M245.0 242.1V198.1M247.0 222.6V182.8M249.0 203.4V160.8M251.0 205.5V160.7M253.0 216.0V164.4M255.0 222.6V191.3M257.0 239.1V205.2M259.0 235.2V148.5M261.0 237.5V208.5M263.0 235.1V199.4M265.0 220.4V174.6M267.0 224.8V186.2M269.0 208.9V175.9M271.0 205.1V160.9M273.0 211.0V168.4M275.0 230.6V176.8M277.0 222.3V164.4M279.0 220.8V164.7M281.0 227.6V177.8M283.0 208.3V177.5M285.0 206.0V167.3M287.0 197.0V162.3M289.0 199.7V162.3M291.0 198.8V169.4M293.0 201.8V162.7M295.0 223.5V182.0M297.0 235.9V194.4M299.0 222.8V184.3M301.0 223.2V191.7M303.0 224.3V152.3M305.0 213.6V169.6M307.0 192.3V164.2M309.0 199.7V166.4M311.0 219.6V179.7M313.0 217.4V181.9M315.0 210.1V182.5M317.0 212.1V165.4M319.0 205.1V177.6M321.0 205.4V169.5M323.0 215.6V182.1M325.0 205.3V179.1M327.0 216.2V181.2M329.0 220.4V186.7M331.0 229.7V196.3M333.0 221.7V188.6M335.0 212.5V187.6M337.0 205.2V175.9M339.0 210.4V167.9M341.0 214.2V183.3M343.0 207.9V172.9M345.0 203.2V175.0M347.0 219.2V186.8M349.0 219.8V188.6M351.0 216.6V189.0M353.0 229.6V191.7M355.0 220.8V191.4M357.0 216.9V192.0M359.0 223.8V198.8M361.0 214.1V178.3M363.0 200.5V176.9M365.0 207.3V171.5M367.0 201.4V171.2M369.0 213.4V178.0M371.0 220.2V179.7M373.0 222.2V196.1M375.0 207.4V186.2M377.0 216.4V186.4M379.0 216.5V180.8M381.0 212.3V167.4M383.0 206.5V175.6M385.0 207.1V165.5M387.0 218.9V178.5M389.0 214.9V169.8M391.0 218.9V176.3M393.0 192.8V168.8M395.0 209.0V172.9M397.0 213.7V179.0M399.0 230.2V194.0M401.0 229.8V183.2M403.0 212.1V173.7M405.0 219.2V176.1M407.0 206.3V174.1M409.0 211.0V160.2M411.0 198.9V160.2M413.0 212.7V173.0M415.0 222.8V187.6M417.0 226.6V186.9M419.0 222.1V180.2M421.0 234.2V166.0M423.0 233.7V189.1M425.0 210.2V162.0M427.0 205.1V162.1M429.0 207.0V163.0M431.0 221.0V172.8M433.0 203.5V173.8M435.0 207.9V168.0M437.0 212.5V180.8M439.0 231.1V186.1M441.0 227.5V186.2M443.0 224.6V186.6M445.0 213.9V183.1M447.0 218.9V187.5M449.0 215.8V182.3M451.0 208.1V174.2M453.0 225.9V193.6M455.0 228.3V189.3M457.0 224.2V190.6M459.0 231.2V195.0M461.0 226.3V201.6M463.0 229.3V208.5M465.0 232.2V206.4M467.0 234.0V211.4M469.0 232.7V208.4M471.0 229.1V203.3M473.0 236.0V200.7M475.0 245.9V218.5M477.0 247.2V221.6M479.0 237.3V216.4M481.0 241.7V214.9M483.0 243.7V217.3M485.0 235.8V219.3M487.0 240.5V213.2M489.0 247.3V220.7M491.0 238.6V212.2M493.0 236.4V205.6M495.0 237.5V211.0M497.0 231.4V208.7M499.0 230.6V208.7M501.0 227.3V201.2M503.0 227.5V204.3M505.0 239.4V205.1M507.0 246.9V216.7M509.0 235.5V215.1M511.0 232.9V209.4M513.0 240.7V210.1M515.0 238.4V212.0M517.0 236.1V209.4M519.0 237.6V215.3M521.0 240.0V212.9M523.0 235.5V210.4M525.0 234.8V207.6M527.0 240.1V199.4M529.0 240.2V217.8M531.0 233.7V209.4M533.0 241.2V220.6M535.0 246.4V222.1M537.0 242.7V218.0M539.0 247.3V217.5M541.0 243.1V222.2M543.0 239.1V211.2M545.0 229.0V209.3M547.0 231.5V211.4M549.0 245.5V220.2M551.0 242.7V222.0M553.0 240.5V220.3M555.0 239.4V219.0M557.0 243.5V206.7M559.0 244.3V220.7M561.0 247.3V217.8M563.0 238.4V214.3M565.0 229.6V206.6M567.0 237.2V208.8M569.0 244.1V216.3M571.0 246.9V218.9M573.0 242.5V228.5M575.0 234.3V210.5M577.0 228.6V205.6M579.0 232.3V210.3M581.0 247.3V224.4M583.0 242.0V216.1M585.0 233.8V213.0M587.0 230.2V212.5M589.0 233.5V206.7M591.0 227.0V201.1M593.0 238.0V218.3M595.0 233.9V213.4M597.0 234.3V216.3M599.0 239.1V210.6M601.0 232.1V206.9M603.0 232.9V202.8M605.0 242.8V207.2M607.0 230.8V209.0M609.0 234.5V206.1M611.0 236.3V216.3M613.0 238.6V208.0M615.0 241.1V211.0M617.0 236.6V217.7M619.0 231.4V203.2M621.0 247.3V220.0M623.0 247.3V217.7M625.0 237.7V214.0M627.0 240.5V212.3M629.0 240.2V208.1M631.0 241.2V212.3M633.0 246.1V222.8M635.0 230.6V214.0M637.0 246.3V210.1M639.0 240.9V211.1M641.0 229.1V199.6M643.0 233.1V200.3M645.0 213.7V185.2M647.0 220.2V192.9M649.0 238.5V201.9M651.0 235.0V205.1M653.0 244.1V205.9M655.0 233.5V202.5M657.0 236.3V205.1M659.0 232.6V211.0M661.0 240.6V184.7M663.0 236.8V211.6M665.0 233.5V198.2M667.0 224.1V195.0M669.0 219.8V192.0M671.0 215.2V184.5M673.0 234.6V197.1M675.0 233.4V197.0M677.0 238.9V194.3M679.0 213.6V184.2M681.0 231.7V181.7M683.0 241.3V199.0M685.0 239.1V184.7M687.0 245.7V205.4M689.0 240.8V203.6M691.0 229.9V195.9M693.0 237.6V209.8M695.0 236.6V200.0M697.0 230.4V200.7M699.0 231.9V193.9M701.0 227.0V203.1M703.0 223.9V196.7M705.0 220.2V196.7M707.0 239.6V197.3M709.0 242.0V218.4M711.0 241.3V217.4M713.0 249.9V222.5M715.0 249.5V218.3M717.0 246.5V227.6M719.0 239.2V212.2M721.0 235.5V208.3M723.0 232.5V202.6M725.0 246.5V211.7M727.0 243.9V211.7M729.0 240.7V211.0M731.0 248.9V225.2M733.0 242.8V213.6M735.0 243.1V215.7M737.0 248.2V234.3" stroke="#0000ff"/>
</g>
<g stroke="#000" stroke-width="2.4"><line x1="52" y1="390.0" x2="57.5" y2="390.0"/><line x1="52" y1="342.4" x2="57.5" y2="342.4"/><line x1="52" y1="294.8" x2="57.5" y2="294.8"/><line x1="52" y1="247.1" x2="57.5" y2="247.1"/><line x1="52" y1="199.5" x2="57.5" y2="199.5"/><line x1="52" y1="151.9" x2="57.5" y2="151.9"/><line x1="52" y1="104.2" x2="57.5" y2="104.2"/><line x1="52" y1="56.6" x2="57.5" y2="56.6"/><line x1="52" y1="9.0" x2="57.5" y2="9.0"/><line x1="52.0" y1="390" x2="52.0" y2="384.8"/><line x1="188.9" y1="390" x2="188.9" y2="384.8"/><line x1="325.8" y1="390" x2="325.8" y2="384.8"/><line x1="462.7" y1="390" x2="462.7" y2="384.8"/><line x1="599.6" y1="390" x2="599.6" y2="384.8"/><line x1="736.5" y1="390" x2="736.5" y2="384.8"/></g>
<g><text x="46.3" y="395.4" text-anchor="end">0.05</text><text x="46.3" y="347.8" text-anchor="end">0.10</text><text x="46.3" y="300.1" text-anchor="end">0.15</text><text x="46.3" y="252.5" text-anchor="end">0.20</text><text x="46.3" y="204.9" text-anchor="end">0.25</text><text x="46.3" y="157.3" text-anchor="end">0.30</text><text x="46.3" y="109.6" text-anchor="end">0.35</text><text x="46.3" y="62.0" text-anchor="end">0.40</text><text x="46.3" y="14.4" text-anchor="end">0.45</text><text x="52.0" y="407" text-anchor="middle">0</text><text x="188.9" y="407" text-anchor="middle">20</text><text x="325.8" y="407" text-anchor="middle">40</text><text x="462.7" y="407" text-anchor="middle">60</text><text x="599.6" y="407" text-anchor="middle">80</text><text x="736.5" y="407" text-anchor="middle">100</text></g>
<rect x="52" y="9" width="684" height="381" fill="none" stroke="#000" stroke-width="2"/>
<g><line x1="255.4" y1="27.3" x2="288.4" y2="27.3" stroke="#000000" stroke-width="3"/><text class="lg" x="299.0" y="32.6">TM1</text><line x1="255.4" y1="48.2" x2="288.4" y2="48.2" stroke="#808080" stroke-width="3"/><text class="lg" x="299.0" y="53.5">TM2</text><line x1="356.2" y1="27.3" x2="389.2" y2="27.3" stroke="#008000" stroke-width="3"/><text class="lg" x="399.8" y="32.6">TM3</text><line x1="356.2" y1="48.2" x2="389.2" y2="48.2" stroke="#ffff00" stroke-width="3"/><text class="lg" x="399.8" y="53.5">TM4</text><line x1="457.5" y1="27.3" x2="490.5" y2="27.3" stroke="#800080" stroke-width="3"/><text class="lg" x="501.1" y="32.6">TMP</text><line x1="457.5" y1="48.2" x2="490.5" y2="48.2" stroke="#0000ff" stroke-width="3"/><text class="lg" x="501.1" y="53.5">M31</text></g>
<text class="al" x="394.8" y="422" text-anchor="middle">Time (ns)</text>
<text class="yl" transform="translate(15.2,199.8) rotate(-90)" text-anchor="middle">BackBone RMSD (nm)</text>
</svg>
</body></html>
